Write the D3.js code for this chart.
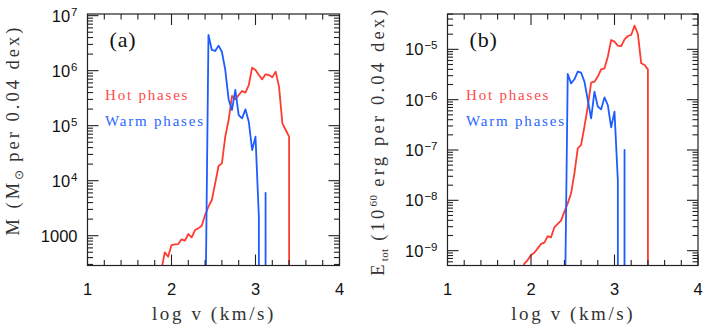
<!DOCTYPE html>
<html>
<head>
<meta charset="utf-8">
<script src="https://cdn.jsdelivr.net/npm/d3@7"></script>
<style>
  body { margin: 0; background: #fff; }
  svg { display: block; }
</style>
</head>
<body>
<svg width="706" height="330"></svg>
<script>
var svg = d3.select("svg");

// bin centres, log v (km/s), 0.04 dex bins
var logv = [1.84, 1.88, 1.92, 1.96, 2.00, 2.04, 2.08, 2.12, 2.16, 2.20,
            2.24, 2.28, 2.32, 2.36, 2.40, 2.44, 2.48, 2.52, 2.56, 2.60,
            2.64, 2.68, 2.72, 2.76, 2.80, 2.84, 2.88, 2.92, 2.96, 3.00,
            3.04, 3.08, 3.12, 3.16, 3.20, 3.24, 3.28, 3.32, 3.36, 3.40, 3.44];

// (a) mass per bin, Msun  (0 = empty bin)
var hotMass = [0, 240, 497, 415, 676, 695, 705, 858, 811, 1072,
               933, 1268, 1359, 1520, 2380, 3370, 4450, 8950, 18500, 20650,
               63100, 126700, 346000, 301000, 361000, 427000, 398000, 548000, 1133000, 1028000,
               834000, 695000, 858000, 834000, 756000, 959000, 512000, 110000, 83400, 63100, 0];
var warmMass = [0, 0, 0, 0, 0, 0, 0, 0, 0, 0,
                0, 0, 0, 0, 10, 4450000, 2380000, 2280000, 2850000, 2210000,
                1030000, 300000, 193000, 445000, 156000, 136000, 198000, 118000, 36100, 63100,
                2200, 0, 6000, 0, 0, 0, 0, 0, 0, 0, 0];

// (b) total energy per bin, 1e60 erg
var hotEnergy = [0, 2e-10, 5.5e-10, 6.5e-10, 8.2e-10, 9.1e-10, 1.11e-9, 1.36e-9, 1.44e-9, 1.95e-9,
                 1.84e-9, 2.91e-9, 3.39e-9, 3.95e-9, 5.96e-9, 8.7e-9, 1.38e-8, 3.43e-8, 1.08e-7, 1.26e-7,
                 2.91e-7, 7.27e-7, 2.18e-6, 2.28e-6, 2.87e-6, 4.0e-6, 4.2e-6, 7.15e-6, 1.53e-5, 1.42e-5,
                 1.18e-5, 1.16e-5, 1.58e-5, 1.84e-5, 1.93e-5, 2.95e-5, 2.02e-5, 5.28e-6, 4.89e-6, 4.0e-6, 0];
var warmEnergy = [0, 0, 0, 0, 0, 0, 0, 0, 0, 0,
                  0, 0, 0, 0, 1e-11, 3.24e-6, 2.11e-6, 2.54e-6, 3.6e-6, 3.43e-6,
                  2.28e-6, 9.85e-7, 4.26e-7, 1.44e-6, 7.27e-7, 6.43e-7, 1.11e-6, 7.83e-7, 2.82e-7, 5.78e-7,
                  2.5e-8, 0, 1.0e-7, 0, 0, 0, 0, 0, 0, 0, 0];

var xTicks = [1, 2, 3, 4];
var massTicks = [1000, 1e4, 1e5, 1e6, 1e7];
var massTickLabels = [["1000", ""], ["10", "4"], ["10", "5"], ["10", "6"], ["10", "7"]];
var energyTicks = [1e-9, 1e-8, 1e-7, 1e-6, 1e-5];
var energyTickLabels = [["10", "\u22129"], ["10", "\u22128"], ["10", "\u22127"], ["10", "\u22126"], ["10", "\u22125"]];

var hotColor = "#ff3b2f";
var warmColor = "#1d5cff";
var axisColor = "#222";
var FLOOR = 1e-300; // empty bins: log of nothing, drawn far below the frame

var plotTop = 14, plotBottom = 265.5;

function drawPanel(p, idx) {
  var g = svg.append("g");
  var x = d3.scaleLinear().domain([1, 4]).range([p.left, p.right]);
  var y = d3.scaleLog().domain(p.ydomain).range([plotBottom, plotTop]);

  svg.append("clipPath").attr("id", "clip" + idx)
    .append("rect")
    .attr("x", p.left).attr("y", plotTop)
    .attr("width", p.right - p.left).attr("height", plotBottom - plotTop);

  var line = d3.line()
    .x(function(d, i) { return x(logv[i]); })
    .y(function(d) { return y(d > 0 ? d : FLOOR); });

  var curves = g.append("g").attr("clip-path", "url(#clip" + idx + ")");
  curves.append("path").datum(p.hot)
    .attr("d", line).attr("fill", "none")
    .attr("stroke", hotColor).attr("stroke-width", 1.8)
    .attr("stroke-linejoin", "round");
  curves.append("path").datum(p.warm)
    .attr("d", line).attr("fill", "none")
    .attr("stroke", warmColor).attr("stroke-width", 1.8)
    .attr("stroke-linejoin", "round");

  // frame
  g.append("rect")
    .attr("x", p.left).attr("y", plotTop)
    .attr("width", p.right - p.left).attr("height", plotBottom - plotTop)
    .attr("fill", "none").attr("stroke", axisColor).attr("stroke-width", 1.2);

  var major = 11, minor = 5.5;
  var ticks = g.append("g").attr("stroke", axisColor).attr("stroke-width", 1.1);

  // x ticks, every 0.2, top and bottom, pointing inward
  var xt = x.ticks(15);
  xt.forEach(function(v) {
    var len = Math.abs(v - Math.round(v)) < 1e-6 ? major : minor;
    ticks.append("line").attr("x1", x(v)).attr("x2", x(v))
      .attr("y1", plotBottom).attr("y2", plotBottom - len);
    ticks.append("line").attr("x1", x(v)).attr("x2", x(v))
      .attr("y1", plotTop).attr("y2", plotTop + len);
  });

  // y ticks, log decades with minor 2..9
  var lo = Math.floor(Math.log10(p.ydomain[0])), hi = Math.ceil(Math.log10(p.ydomain[1]));
  for (var n = lo; n <= hi; n++) {
    for (var k = 1; k <= 9; k++) {
      var v = k * Math.pow(10, n);
      if (v < p.ydomain[0] || v > p.ydomain[1]) continue;
      var len = k === 1 ? major : minor;
      ticks.append("line").attr("x1", p.left).attr("x2", p.left + len)
        .attr("y1", y(v)).attr("y2", y(v));
      ticks.append("line").attr("x1", p.right).attr("x2", p.right - len)
        .attr("y1", y(v)).attr("y2", y(v));
    }
  }

  // tick labels
  var lab = g.append("g")
    .attr("font-family", "'Liberation Sans', Arial, sans-serif")
    .attr("fill", "#111");
  xTicks.forEach(function(v) {
    lab.append("text").attr("x", x(v)).attr("y", 295)
      .attr("text-anchor", "middle").attr("font-size", 16.5).text(v);
  });
  p.yticks.forEach(function(v, i) {
    var t = lab.append("text").attr("x", p.left - 10).attr("y", y(v) + 6)
      .attr("text-anchor", "end").attr("font-size", 16.5);
    t.append("tspan").text(p.ylabels[i][0]);
    if (p.ylabels[i][1]) {
      t.append("tspan").attr("dy", -6).attr("font-size", 11.5)
        .attr("dx", 1).text(p.ylabels[i][1]);
    }
  });

  // axis titles
  var serif = "'Liberation Serif', 'Times New Roman', serif";
  g.append("text")
    .attr("x", (p.left + p.right) / 2 + 0.5).attr("y", 320)
    .attr("text-anchor", "middle").attr("font-family", serif)
    .attr("font-size", 19).attr("letter-spacing", 2.6).attr("fill", "#333")
    .text("log v (km/s)");

  var yt = g.append("text")
    .attr("transform", "translate(" + p.ylabelX + "," + p.ylabelY + ") rotate(-90)")
    .attr("text-anchor", "middle").attr("font-family", serif)
    .attr("font-size", 18.5).attr("letter-spacing", p.ylabelSpacing).attr("fill", "#333");
  p.ylabel(yt);

  // panel tag and legend
  g.append("text").attr("x", p.left + 22).attr("y", 47)
    .attr("font-family", serif).attr("font-size", 22).attr("fill", "#111")
    .attr("letter-spacing", 0.8).text(p.tag);
  g.append("text").attr("x", p.left + p.legendDx).attr("y", 99.5)
    .attr("font-family", serif).attr("font-size", 15).attr("letter-spacing", 1.8)
    .attr("fill", "#ff4a4a").text("Hot phases");
  g.append("text").attr("x", p.left + p.legendDx).attr("y", 125.5)
    .attr("font-family", serif).attr("font-size", 15).attr("letter-spacing", 1.8)
    .attr("fill", "#2a66ff").text("Warm phases");
}

drawPanel({
  left: 87.5, right: 339.5,
  ydomain: [Math.pow(10, 2.458), Math.pow(10, 7.03)],
  hot: hotMass, warm: warmMass,
  yticks: massTicks, ylabels: massTickLabels,
  tag: "(a)", legendDx: 17.5,
  ylabelX: 19, ylabelY: 130, ylabelSpacing: 3,
  ylabel: function(t) {
    t.append("tspan").text("M (M");
    t.append("tspan").attr("font-size", 12).attr("dy", 4).attr("letter-spacing", 0.5).text("\u2299");
    t.append("tspan").attr("dy", -4).text(" per 0.04 dex)");
  }
}, 0);

drawPanel({
  left: 447.5, right: 698,
  ydomain: [Math.pow(10, -9.295), Math.pow(10, -4.298)],
  hot: hotEnergy, warm: warmEnergy,
  yticks: energyTicks, ylabels: energyTickLabels,
  tag: "(b)", legendDx: 18.5,
  ylabelX: 384, ylabelY: 141, ylabelSpacing: 3.2,
  ylabel: function(t) {
    t.append("tspan").text("E");
    t.append("tspan").attr("font-size", 11).attr("dy", 4).attr("letter-spacing", 0.3).text("tot");
    t.append("tspan").attr("dy", -4).text(" (10");
    t.append("tspan").attr("font-size", 11).attr("dy", -7).attr("letter-spacing", 0.5).text("60");
    t.append("tspan").attr("dy", 7).text(" erg per 0.04 dex)");
  }
}, 1);
</script>
</body>
</html>
